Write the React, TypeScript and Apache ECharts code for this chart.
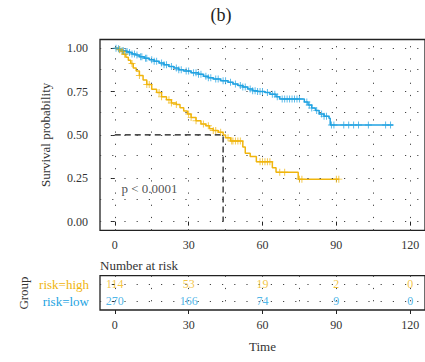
import React, { useEffect, useRef } from "react";
import * as echarts from "echarts";

const ORANGE = "#F0B50E";
const BLUE = "#22A3E2";
const FONT = "Liberation Serif";

// Kaplan-Meier step data (time, survival)
const highTimes = [0, 1.5, 2.5, 3.3, 4.5, 5.5, 6.5, 7.5, 8.7, 10, 11.5, 13, 15, 17, 19, 21, 23, 25, 26.5, 28, 29.5, 31, 33, 35, 37, 38.5, 40, 42, 44, 45, 47, 52, 53, 55, 57.5, 64, 65.5, 74.5, 91];
const highSurv = [1.0, 0.991, 0.982, 0.965, 0.947, 0.93, 0.912, 0.886, 0.868, 0.842, 0.816, 0.79, 0.763, 0.745, 0.72, 0.702, 0.684, 0.675, 0.657, 0.638, 0.62, 0.601, 0.582, 0.563, 0.553, 0.535, 0.525, 0.515, 0.5, 0.484, 0.465, 0.43, 0.394, 0.375, 0.345, 0.31, 0.285, 0.245, 0.245];
const lowTimes = [0, 1, 2, 3, 4, 5.5, 7, 8.5, 10, 12, 14, 16, 18, 20, 22, 24, 26, 28, 31, 34, 36, 38, 40, 43, 46, 48, 50, 52, 54, 56, 58, 61, 63, 65.5, 67, 77, 78.5, 80, 81.5, 83, 85, 87, 87.5, 113];
const lowSurv = [1.0, 0.996, 0.992, 0.985, 0.981, 0.975, 0.966, 0.96, 0.951, 0.942, 0.933, 0.924, 0.914, 0.905, 0.895, 0.885, 0.876, 0.868, 0.858, 0.849, 0.838, 0.83, 0.822, 0.812, 0.803, 0.794, 0.785, 0.776, 0.765, 0.755, 0.75, 0.745, 0.735, 0.72, 0.707, 0.69, 0.673, 0.655, 0.64, 0.62, 0.607, 0.596, 0.557, 0.557];
const highCensor = [2, 3, 4, 7, 10, 13, 14, 18, 19, 22, 23, 25, 30, 31, 33, 36, 38, 40, 41, 43, 46, 47.5, 48, 49, 50, 51, 59, 60, 61, 62, 63, 67, 69, 75, 76, 90, 91];
const lowCensor = [0.5, 1.5, 2, 3, 3.5, 4.5, 5, 6, 7, 8, 9, 10.5, 11, 12.5, 13, 15, 16, 17, 19, 20, 21, 23, 25, 26, 27, 29, 30, 32, 33, 34, 35, 37, 38, 39, 41, 42, 44, 45, 47, 49, 51, 52, 53, 55, 56, 57, 58, 59, 60, 62, 64, 65, 66, 68, 69, 70, 71, 72, 73, 74, 75, 78, 79, 80, 82, 84, 85, 86, 88, 89, 93, 95, 97, 99, 103, 110, 112];

const riskTimes = [0, 30, 60, 90, 120];
const highAtRisk = [114, 53, 19, 2, 0];
const lowAtRisk = [270, 166, 74, 9, 0];
const groups = ["risk=high", "risk=low"];

const xTicks = [0, 30, 60, 90, 120];
const yTicks = [0, 0.25, 0.5, 0.75, 1.0];
const xGridLines = [0, 15, 30, 45, 60, 75, 90, 105, 120];
const yGridLines = [0, 0.125, 0.25, 0.375, 0.5, 0.625, 0.75, 0.875, 1.0];
const medianTime = 44;
const medianSurv = 0.5;
const pLabel = "p < 0.0001";
const pPos = [2.7, 0.19];

const PLUS = "path://M-0.14,-1L0.14,-1L0.14,-0.14L1,-0.14L1,0.14L0.14,0.14L0.14,1L-0.14,1L-0.14,0.14L-1,0.14L-1,-0.14L-0.14,-0.14Z";

function survAt(times: number[], surv: number[], t: number) {
  let s = surv[0];
  for (let i = 0; i < times.length; i++) {
    if (times[i] <= t) s = surv[i];
  }
  return s;
}

const TXT = "#333333";
const DOT = { color: "#444", width: 1, type: [1.2, 11] as number[] };

export default function App() {
  const ref = useRef<HTMLDivElement>(null);
  useEffect(() => {
    if (!ref.current) return;
    const chart = echarts.init(ref.current, null, { renderer: "svg" });
    const X0 = -6, X1 = 126;
    const axisX = (gi: number, withName: boolean) => ({
      type: "value",
      gridIndex: gi,
      min: X0,
      max: X1,
      axisLine: { show: false },
      splitLine: { show: false },
      axisTick: { show: true, customValues: xTicks, length: 4, lineStyle: { color: "#222", width: 1 } },
      axisLabel: { customValues: xTicks, color: TXT, fontFamily: FONT, fontSize: 12, margin: 9 },
      name: withName ? "Time" : "",
      nameLocation: "middle",
      nameGap: 30,
      nameTextStyle: { color: TXT, fontFamily: FONT, fontSize: 13 },
    });
    const option: any = {
      animation: false,
      textStyle: { fontFamily: FONT },
      grid: [
        { left: 100, top: 39.5, width: 325.6, height: 190.8, show: true, borderColor: "#222", borderWidth: 1.3, backgroundColor: "transparent" },
        { left: 100, top: 275.7, width: 325.6, height: 34.3, show: true, borderColor: "#222", borderWidth: 1.3, backgroundColor: "transparent" },
      ],
      xAxis: [axisX(0, false), axisX(1, true)],
      yAxis: [
        {
          type: "value",
          gridIndex: 0,
          min: -0.05,
          max: 1.05,
          axisLine: { show: false },
          splitLine: { show: false },
          axisTick: { show: true, customValues: yTicks, length: 4, lineStyle: { color: "#222", width: 1 } },
          axisLabel: { customValues: yTicks, color: TXT, fontFamily: FONT, fontSize: 12, margin: 12, formatter: (v: number) => v.toFixed(2) },
          name: "Survival probability",
          nameLocation: "middle",
          nameGap: 48,
          nameTextStyle: { color: TXT, fontFamily: FONT, fontSize: 13 },
        },
        {
          type: "category",
          gridIndex: 1,
          data: groups,
          inverse: true,
          axisLine: { show: false },
          splitLine: { show: false },
          axisTick: { show: true, alignWithLabel: true, length: 3, lineStyle: { color: "#222", width: 1 } },
          axisLabel: {
            margin: 11,
            fontFamily: FONT,
            fontSize: 13,
            formatter: (v: string) => (v === groups[0] ? `{h|${v}}` : `{l|${v}}`),
            rich: {
              h: { color: ORANGE, fontFamily: FONT, fontSize: 13 },
              l: { color: BLUE, fontFamily: FONT, fontSize: 13 },
            },
          },
        },
      ],
      graphic: [
        { type: "text", x: 221, y: 15, style: { text: "(b)", font: `18px '${FONT}'`, fill: "#222", textAlign: "center", textVerticalAlign: "middle" } },
        { type: "text", x: 100, y: 265, style: { text: "Number at risk", font: `13px '${FONT}'`, fill: TXT, textAlign: "left", textVerticalAlign: "middle" } },
        { type: "text", x: 23, y: 293, rotation: Math.PI / 2, style: { text: "Group", font: `13px '${FONT}'`, fill: TXT, textAlign: "center", textVerticalAlign: "middle" } },
      ],
      series: [
        {
          type: "line",
          xAxisIndex: 0,
          yAxisIndex: 0,
          data: [],
          z: 1,
          silent: true,
          markLine: {
            silent: true,
            symbol: "none",
            label: { show: false },
            lineStyle: DOT,
            data: [...xGridLines.map((x) => ({ xAxis: x })), ...yGridLines.map((y) => ({ yAxis: y }))],
          },
        },
        {
          type: "line",
          xAxisIndex: 1,
          yAxisIndex: 1,
          data: [],
          z: 1,
          silent: true,
          markLine: {
            silent: true,
            symbol: "none",
            label: { show: false },
            lineStyle: DOT,
            data: [...xGridLines.map((x) => ({ xAxis: x })), ...groups.map((_, i) => ({ yAxis: i }))],
          },
        },
        {
          name: "median",
          type: "line",
          xAxisIndex: 0,
          yAxisIndex: 0,
          data: [[0, medianSurv], [medianTime, medianSurv], [medianTime, 0]],
          showSymbol: false,
          symbol: "none",
          lineStyle: { color: "#111", width: 1.2, type: [6, 4] },
          z: 3,
        },
        {
          name: "risk=low",
          type: "line",
          step: "end",
          xAxisIndex: 0,
          yAxisIndex: 0,
          data: lowTimes.map((t, i) => [t, lowSurv[i]]),
          showSymbol: false,
          symbol: "none",
          lineStyle: { color: BLUE, width: 1.5 },
          z: 4,
        },
        {
          name: "risk=high",
          type: "line",
          step: "end",
          xAxisIndex: 0,
          yAxisIndex: 0,
          data: highTimes.map((t, i) => [t, highSurv[i]]),
          showSymbol: false,
          symbol: "none",
          lineStyle: { color: ORANGE, width: 1.5 },
          z: 4,
        },
        {
          type: "scatter",
          xAxisIndex: 0,
          yAxisIndex: 0,
          symbol: PLUS,
          symbolSize: 7,
          data: lowCensor.map((t) => [t, survAt(lowTimes, lowSurv, t)]),
          itemStyle: { color: BLUE, opacity: 0.75 },
          z: 5,
        },
        {
          type: "scatter",
          xAxisIndex: 0,
          yAxisIndex: 0,
          symbol: PLUS,
          symbolSize: 7,
          data: highCensor.map((t) => [t, survAt(highTimes, highSurv, t)]),
          itemStyle: { color: ORANGE, opacity: 0.75 },
          z: 5,
        },
        {
          type: "scatter",
          xAxisIndex: 0,
          yAxisIndex: 0,
          symbolSize: 0,
          data: [pPos],
          label: { show: true, position: "right", distance: 0, formatter: pLabel, color: "#222", fontFamily: FONT, fontSize: 13 },
          z: 6,
        },
        {
          type: "scatter",
          xAxisIndex: 1,
          yAxisIndex: 1,
          symbolSize: 0,
          data: riskTimes.map((t, i) => [t, 0, highAtRisk[i]]),
          label: { show: true, position: "inside", formatter: (p: any) => String(p.value[2]), color: ORANGE, fontFamily: FONT, fontSize: 12 },
          z: 6,
        },
        {
          type: "scatter",
          xAxisIndex: 1,
          yAxisIndex: 1,
          symbolSize: 0,
          data: riskTimes.map((t, i) => [t, 1, lowAtRisk[i]]),
          label: { show: true, position: "inside", formatter: (p: any) => String(p.value[2]), color: BLUE, fontFamily: FONT, fontSize: 12 },
          z: 6,
        },
      ],
    };
    chart.setOption(option);
    return () => chart.dispose();
  }, []);
  return <div ref={ref} style={{ position: "absolute", left: 0, top: 0, width: 425, height: 362 }} />;
}
